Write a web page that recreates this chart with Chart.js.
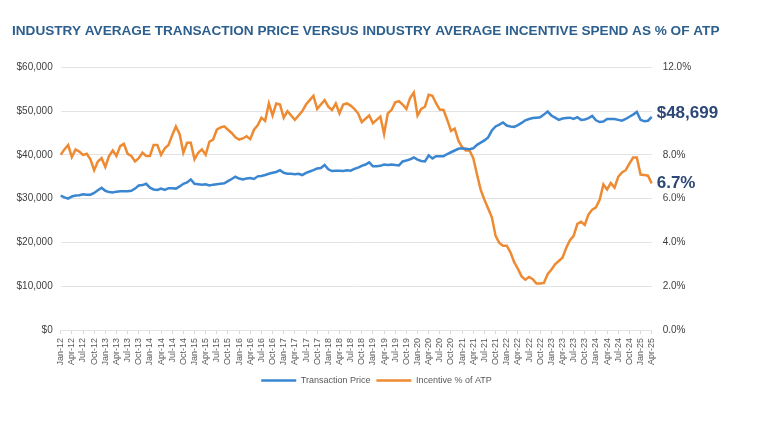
<!DOCTYPE html>
<html>
<head>
<meta charset="utf-8">
<script src="https://cdn.jsdelivr.net/npm/chart.js@4"></script>
<style>
  html, body { margin: 0; padding: 0; background: #fff; }
</style>
</head>
<body>
<canvas id="myChart" width="757" height="425"></canvas>
<script>
// month names and years for the x-axis (monthly, Jan-12 to Apr-25)
var monthNames = ["Jan", "Feb", "Mar", "Apr", "May", "Jun", "Jul", "Aug", "Sep", "Oct", "Nov", "Dec"];
var years = [12, 13, 14, 15, 16, 17, 18, 19, 20, 21, 22, 23, 24, 25];
var lastMonthCount = 4; // 2025 runs Jan..Apr

// average transaction price, $ (one row per year)
var transactionPrice = [
  30700, 30300, 30000, 30500, 30700, 30800, 31000, 30900, 30900, 31300, 31900, 32500,
  31800, 31500, 31400, 31600, 31700, 31700, 31700, 31800, 32300, 33000, 33100, 33400,
  32500, 32100, 32000, 32300, 32000, 32400, 32400, 32300, 32800, 33400, 33700, 34400,
  33400, 33300, 33200, 33300, 33000, 33200, 33300, 33400, 33500, 34000, 34500, 35000,
  34600, 34400, 34600, 34700, 34500, 35100, 35200, 35400, 35700, 35900, 36100, 36500,
  35900, 35700, 35700, 35600, 35700, 35400, 35900, 36200, 36500, 36900, 37000, 37700,
  36700, 36300, 36400, 36400, 36300, 36500, 36400, 36800, 37100, 37500, 37800, 38300,
  37400, 37400, 37500, 37800, 37700, 37800, 37700, 37600, 38500, 38700, 39000, 39400,
  38900, 38600, 38500, 39900, 39200, 39700, 39700, 39700, 40200, 40600, 41000, 41400,
  41500, 41400, 41300, 41500, 42300, 42800, 43300, 44000, 45600, 46500, 46900, 47400,
  46700, 46500, 46400, 46800, 47300, 47900, 48200, 48400, 48500, 48600, 49200, 49900,
  49000, 48500, 48000, 48300, 48400, 48500, 48200, 48600, 48000, 48100, 48400, 48900,
  47900, 47500, 47600, 48200, 48200, 48200, 48000, 47800, 48200, 48700, 49200, 49800,
  48000, 47700, 47800, 48699
];

// incentive spend as % of ATP
var incentivePct = [
  8.0, 8.25, 8.45, 7.9, 8.25, 8.15, 8.0, 8.05, 7.8, 7.3, 7.7, 7.85,
  7.45, 7.95, 8.2, 7.95, 8.4, 8.5, 8.05, 7.95, 7.7, 7.85, 8.1, 7.95,
  7.95, 8.45, 8.45, 8.0, 8.3, 8.45, 8.9, 9.3, 8.95, 8.1, 8.55, 8.55,
  7.8, 8.1, 8.25, 8.0, 8.6, 8.7, 9.15, 9.25, 9.3, 9.15, 9.0, 8.8,
  8.7, 8.75, 8.85, 8.72, 9.15, 9.35, 9.7, 9.55, 10.35, 9.8, 10.35, 10.3,
  9.7, 10.0, 9.8, 9.6, 9.8, 10.0, 10.3, 10.5, 10.7, 10.1, 10.3, 10.5,
  10.2, 10.05, 10.35, 9.9, 10.3, 10.35, 10.25, 10.1, 9.9, 9.5, 9.65, 9.8,
  9.45, 9.6, 9.75, 8.95, 9.9, 10.05, 10.4, 10.45, 10.3, 10.1, 10.6, 10.85,
  9.8, 10.1, 10.2, 10.75, 10.7, 10.35, 10.07, 10.05, 9.6, 9.1, 9.2, 8.65,
  8.35, 8.2, 8.2, 7.85, 7.1, 6.4, 5.95, 5.55, 5.15, 4.3, 3.98, 3.85,
  3.85, 3.55, 3.1, 2.8, 2.45, 2.3, 2.42, 2.32, 2.12, 2.12, 2.15, 2.55,
  2.75, 3.0, 3.15, 3.3, 3.75, 4.1, 4.3, 4.85, 4.94, 4.8, 5.28, 5.5,
  5.6, 5.95, 6.65, 6.42, 6.72, 6.5, 7.0, 7.2, 7.3, 7.6, 7.88, 7.88,
  7.1, 7.08, 7.05, 6.7
];

// build "Jan-12" style labels
var labels = [];
years.forEach(function (yr, k) {
  var n = k === years.length - 1 ? lastMonthCount : 12;
  for (var m = 0; m < n; m++) labels.push(monthNames[m] + "-" + yr);
});

var FONT = "'Liberation Sans', Arial, sans-serif";
var BLUE = "#3a86d1";
var ORANGE = "#ee8a32";

// big end-of-line value call-outs
const endLabels = {
  id: "endLabels",
  afterDatasetsDraw(chart) {
    const { ctx, chartArea, scales } = chart;
    const lastP = transactionPrice[transactionPrice.length - 1];
    const lastI = incentivePct[incentivePct.length - 1];
    const items = [
      ["$" + lastP.toLocaleString("en-US"), scales.y.getPixelForValue(lastP) - 3],
      [lastI.toFixed(1) + "%", scales.y1.getPixelForValue(lastI)],
    ];
    ctx.save();
    ctx.font = "bold 17px " + FONT;
    ctx.textBaseline = "middle";
    items.forEach(function (it) {
      const x = chartArea.right + 5;
      const w = ctx.measureText(it[0]).width;
      ctx.fillStyle = "#fff";
      ctx.fillRect(x - 1, it[1] - 10, w + 2, 20);
      ctx.fillStyle = "#2d4776";
      ctx.fillText(it[0], x, it[1]);
    });
    ctx.restore();
  },
};

const data = {
  labels: labels,
  datasets: [
    {
      label: "Transaction Price",
      data: transactionPrice,
      borderColor: BLUE,
      backgroundColor: BLUE,
      borderWidth: 2.5,
      pointRadius: 0,
      tension: 0,
      yAxisID: "y",
    },
    {
      label: "Incentive % of ATP",
      data: incentivePct,
      borderColor: ORANGE,
      backgroundColor: ORANGE,
      borderWidth: 2.5,
      pointRadius: 0,
      tension: 0,
      yAxisID: "y1",
    },
  ],
};

const config = {
  type: "line",
  data,
  plugins: [endLabels],
  options: {
    responsive: false,
    animation: false,
    layout: { padding: { left: 12, right: 16, top: 0, bottom: 30 } },
    plugins: {
      title: {
        display: true,
        text: "INDUSTRY AVERAGE TRANSACTION PRICE VERSUS INDUSTRY AVERAGE INCENTIVE SPEND AS % OF ATP",
        align: "start",
        color: "#2c5f8e",
        font: { family: FONT, size: 13.6, weight: "bold" },
        padding: { top: 23, bottom: 28 },
      },
      legend: {
        position: "bottom",
        labels: {
          usePointStyle: true,
          pointStyle: "line",
          pointStyleWidth: 35,
          color: "#595959",
          padding: 6,
          font: { family: FONT, size: 9 },
        },
      },
      tooltip: { enabled: false },
    },
    scales: {
      x: {
        grid: {
          drawOnChartArea: false,
          drawTicks: true,
          tickLength: 4,
          color: "#d9d9d9",
        },
        border: { display: false },
        afterFit: function (s) { s.height = 40; },
        ticks: {
          autoSkip: false,
          maxRotation: 90,
          minRotation: 90,
          padding: 4,
          color: "#595959",
          font: { family: FONT, size: 9 },
          callback: function (v, i) {
            return i % 3 === 0 ? labels[i] : null;
          },
        },
      },
      y: {
        position: "left",
        min: 0,
        max: 60000,
        afterFit: function (s) { s.width = 48.7; },
        grid: { color: "#e3e3e3", drawTicks: false },
        border: { display: false },
        ticks: {
          stepSize: 10000,
          padding: 8,
          color: "#404040",
          font: { family: FONT, size: 10 },
          callback: function (v) { return "$" + v.toLocaleString("en-US"); },
        },
      },
      y1: {
        position: "right",
        min: 0,
        max: 12,
        afterFit: function (s) { s.width = 89.3; },
        grid: { drawOnChartArea: false, drawTicks: false },
        border: { display: false },
        ticks: {
          stepSize: 2,
          padding: 11,
          color: "#404040",
          font: { family: FONT, size: 10 },
          callback: function (v) { return v.toFixed(1) + "%"; },
        },
      },
    },
  },
};

const myChart = new Chart(document.getElementById("myChart"), config);
</script>
</body>
</html>
